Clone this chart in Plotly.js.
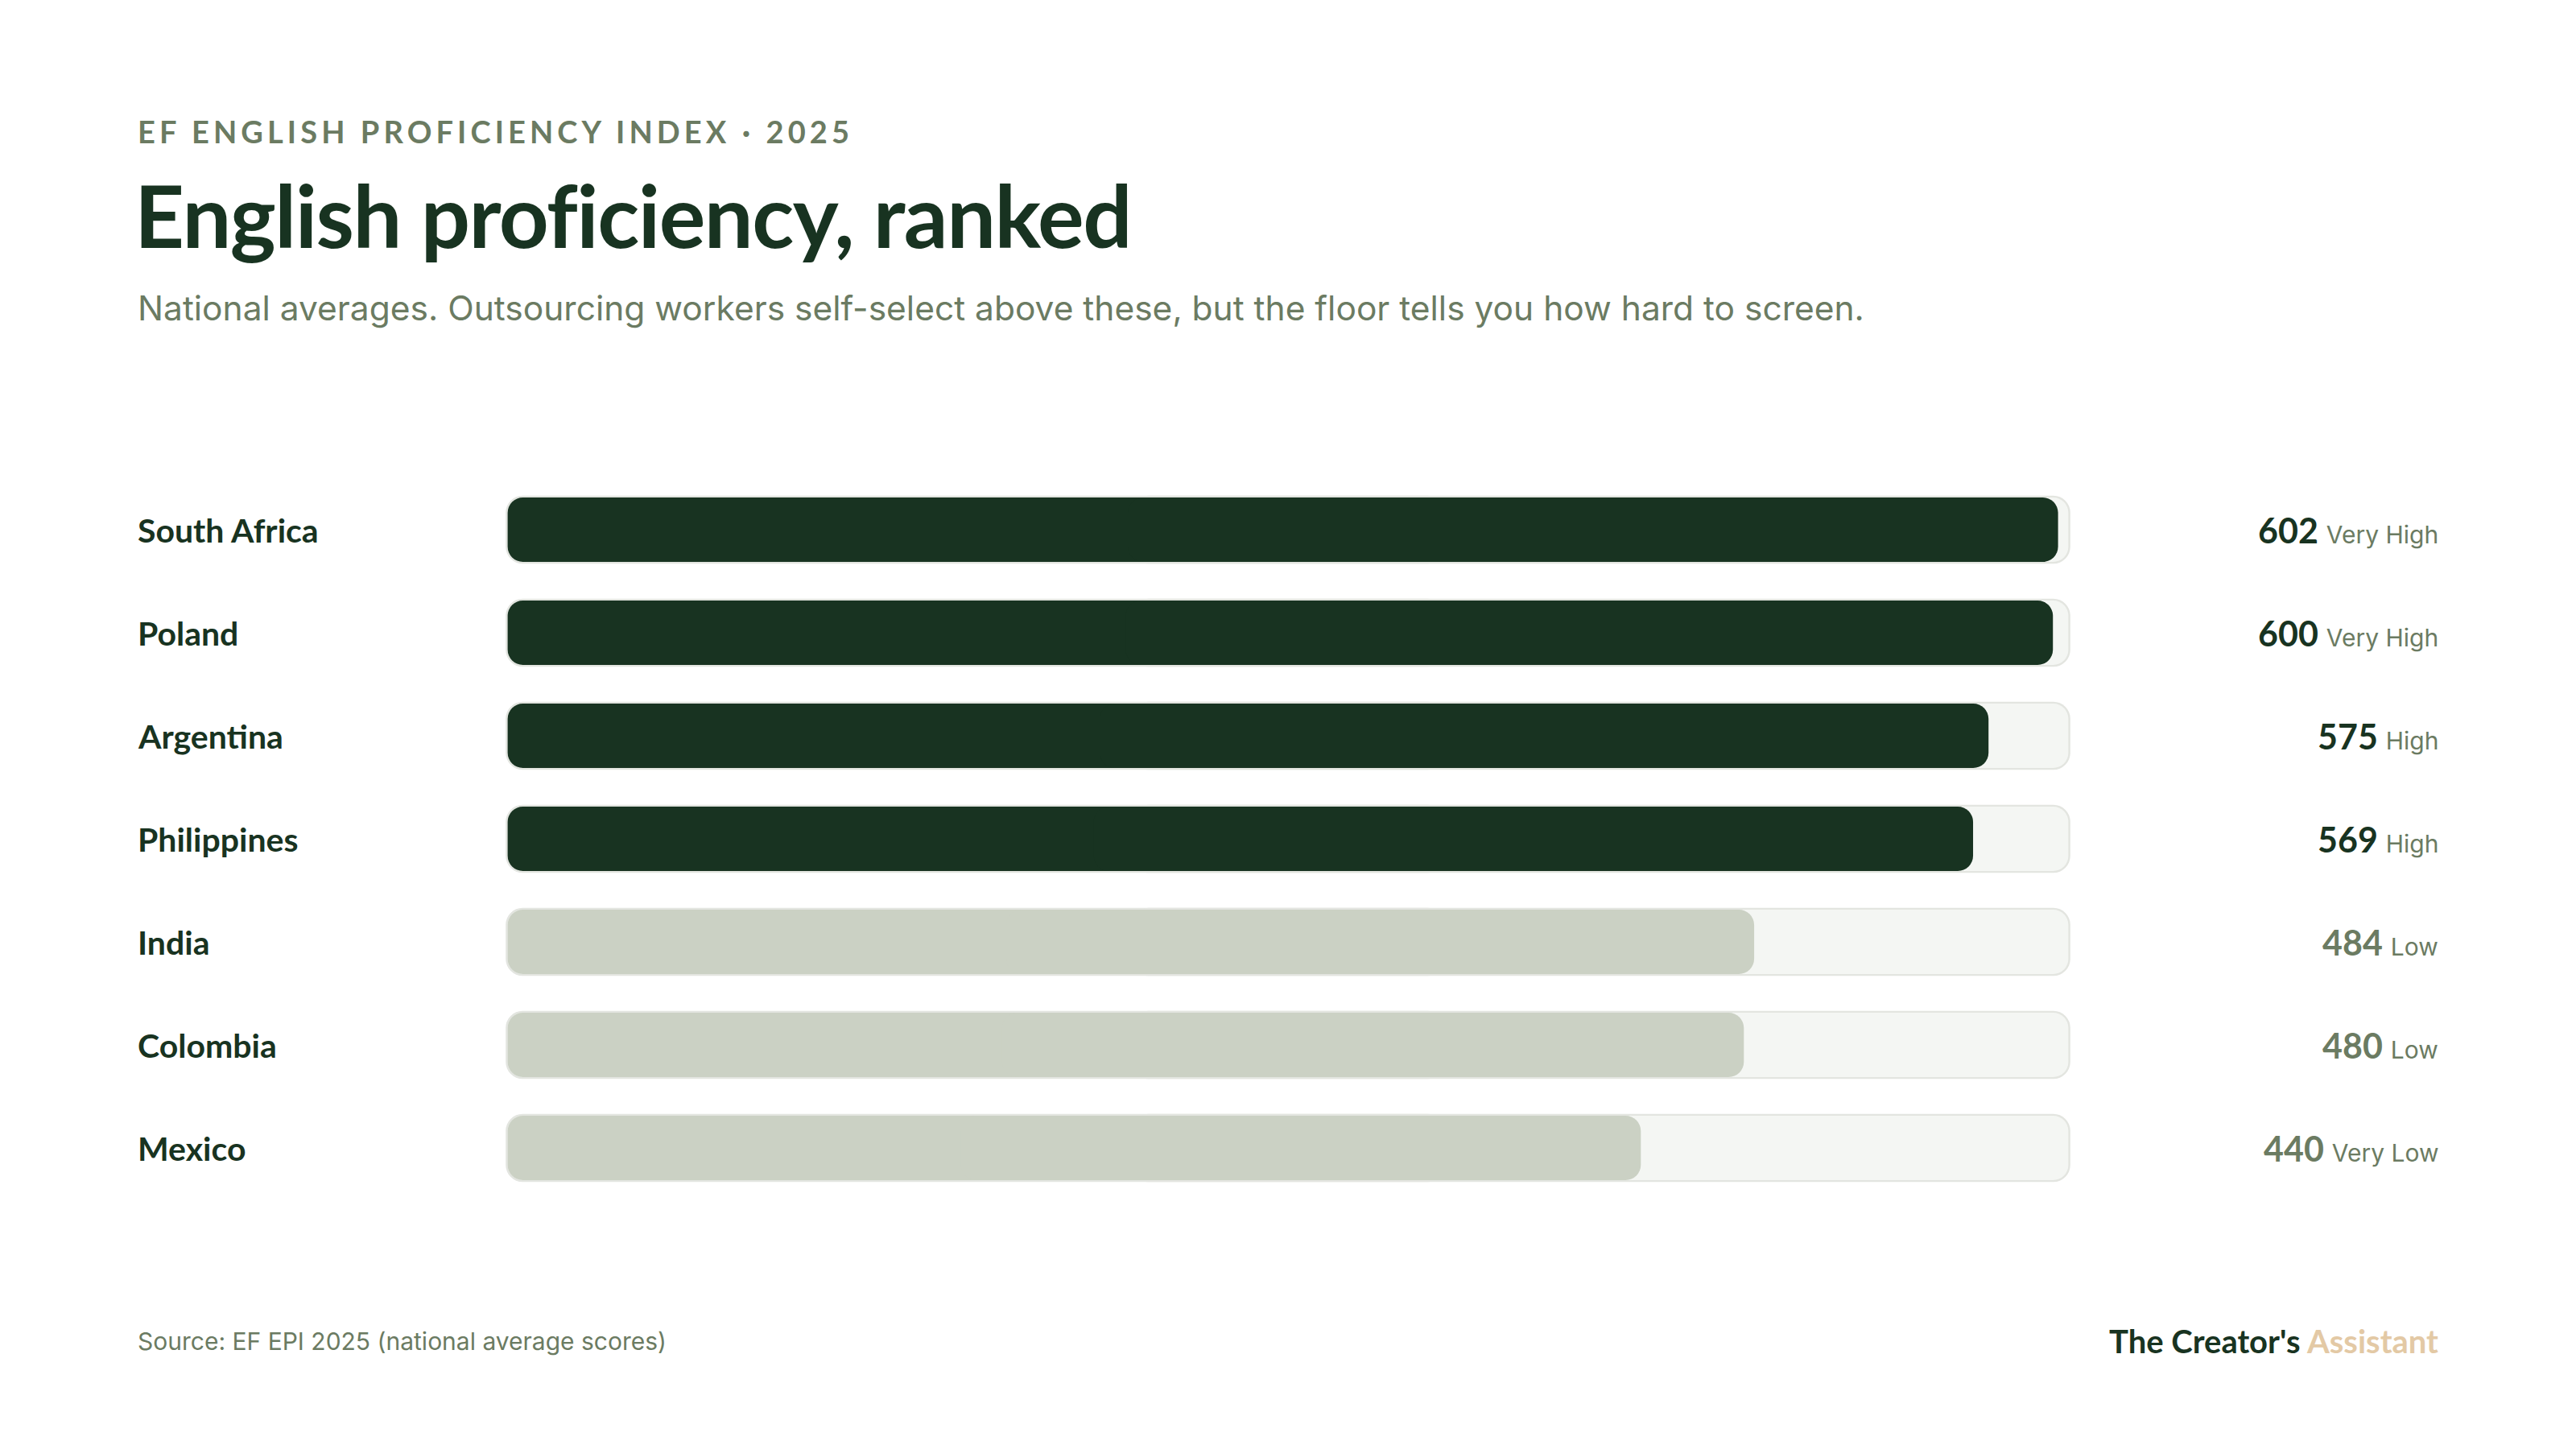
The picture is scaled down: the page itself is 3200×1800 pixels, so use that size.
<!DOCTYPE html>
<html>
<head>
<meta charset="utf-8">
<script src="https://cdn.plot.ly/plotly-3.0.1.min.js"></script>
<style>
html,body{margin:0;padding:0;background:#ffffff;}
#chart{width:3200px;height:1800px;}
</style>
</head>
<body>
<div id="chart"></div>
<script>
// ---- data ----
const countries = ['South Africa', 'Poland', 'Argentina', 'Philippines', 'India', 'Colombia', 'Mexico'];
const scores = [602, 600, 575, 569, 484, 480, 440];
const bands = ['Very High', 'Very High', 'High', 'High', 'Low', 'Low', 'Very Low'];
const scaleMax = 606;

const kicker = 'EF ENGLISH PROFICIENCY INDEX · 2025';
const titleText = 'English proficiency, ranked';
const subtitle = 'National averages. Outsourcing workers self-select above these, but the floor tells you how hard to screen.';
const sourceText = 'Source: EF EPI 2025 (national average scores)';
const brandA = "The Creator's";
const brandB = 'Assistant';

// ---- style ----
const DARK = '#183321';
const MUTED = '#6B7B62';
const LIGHTBAR = '#CBD1C4';
const TRACK = '#F4F6F3';
const TRACKLINE = '#E3E5E0';
const BEIGE = '#E3C9A5';

const W = 3200, H = 1800;
const PAD = 3;             // axis padding (data units) so rounded ends are not clipped
const PL = 621, PR = 2579, PT = 594, PB = 1490;
const px = x => (x - PL) / (PR - PL);
const py = y => (PB - y) / (PB - PT);

const isHigh = bands.map(b => b === 'Very High' || b === 'High');

// A bar rounded at both ends, built from two overlapping bars:
// one grows from the middle back to the start (rounded at start), one from the middle to the end.
function roundedBar(starts, ends, color, width, radius) {
  const leftPart = {
    type: 'bar', orientation: 'h', y: countries,
    base: starts.map((s, i) => s + (ends[i] - s) * 0.6),
    x: starts.map((s, i) => -(ends[i] - s) * 0.6),
    width: width,
    marker: {color: color, line: {width: 0}, cornerradius: radius},
    hoverinfo: 'skip', showlegend: false
  };
  const rightPart = {
    type: 'bar', orientation: 'h', y: countries,
    base: starts.map((s, i) => s + (ends[i] - s) * 0.4),
    x: starts.map((s, i) => (ends[i] - s) * 0.6),
    width: width,
    marker: {color: color, line: {width: 0}, cornerradius: radius},
    hoverinfo: 'skip', showlegend: false
  };
  return [leftPart, rightPart];
}

const zeros = countries.map(() => 0);
const fullTrack = countries.map(() => scaleMax);
const border = 0.75; // track outline thickness in data units
const traces = []
  .concat(roundedBar(zeros.map(z => z - border), fullTrack.map(v => v + border), TRACKLINE, 0.66, 21))
  .concat(roundedBar(zeros, fullTrack, TRACK, 0.625, 19))
  .concat(roundedBar(zeros, scores, isHigh.map(h => h ? DARK : LIGHTBAR), 0.625, 19));

const annotations = [];
countries.forEach((c, i) => {
  annotations.push({
    xref: 'paper', yref: 'y', x: px(169), y: c, xanchor: 'left', yanchor: 'middle', align: 'left',
    text: '<b>' + c + '</b>', showarrow: false,
    font: {family: 'Lato, sans-serif', size: 41, color: DARK, weight: 800}
  });
  annotations.push({
    xref: 'paper', yref: 'y', x: px(3031), y: c, xanchor: 'right', yanchor: 'middle', align: 'right',
    text: '<b>' + scores[i] + '</b> <span style="font-family:Inter;font-size:30px;font-weight:400;color:' + MUTED + '">' + bands[i] + '</span>',
    showarrow: false,
    font: {family: 'Lato, sans-serif', size: 43, color: isHigh[i] ? DARK : MUTED, weight: 800}
  });
});

annotations.push({
  xref: 'paper', yref: 'paper', x: px(169), y: py(163), xanchor: 'left', yanchor: 'middle', align: 'left',
  text: '<b>' + kicker + '</b>', showarrow: false,
  font: {family: 'Lato, sans-serif', size: 38, color: MUTED, weight: 800}
});
annotations.push({
  xref: 'paper', yref: 'paper', x: px(169), y: py(382), xanchor: 'left', yanchor: 'middle', align: 'left',
  text: subtitle, showarrow: false,
  font: {family: 'Inter, sans-serif', size: 42.5, color: MUTED}
});
annotations.push({
  xref: 'paper', yref: 'paper', x: px(169), y: py(1666), xanchor: 'left', yanchor: 'middle', align: 'left',
  text: sourceText, showarrow: false,
  font: {family: 'Inter, sans-serif', size: 30, color: MUTED}
});
annotations.push({
  xref: 'paper', yref: 'paper', x: px(3031), y: py(1666), xanchor: 'right', yanchor: 'middle', align: 'right',
  text: '<b>' + brandA + ' <span style="color:' + BEIGE + '">' + brandB + '</span></b>', showarrow: false,
  font: {family: 'Lato, sans-serif', size: 40, color: DARK, weight: 800}
});

const layout = {
  width: W, height: H,
  paper_bgcolor: '#ffffff', plot_bgcolor: '#ffffff',
  margin: {l: PL, r: W - PR, t: PT, b: H - PB, autoexpand: false},
  barmode: 'overlay',
  showlegend: false,
  title: {
    text: '<b>' + titleText + '</b>',
    xref: 'container', yref: 'container',
    x: 167 / W, xanchor: 'left', y: 1 - 270 / H, yanchor: 'middle',
    font: {family: 'Lato, sans-serif', size: 108, color: DARK, weight: 900}
  },
  xaxis: {range: [-PAD, scaleMax + PAD], visible: false, fixedrange: true},
  yaxis: {type: 'category', categoryorder: 'array', categoryarray: countries,
          range: [countries.length - 0.5, -0.5], visible: false, fixedrange: true},
  annotations: annotations
};

Plotly.newPlot('chart', traces, layout, {displayModeBar: false, staticPlot: true}).then(() => {
  document.querySelectorAll('.annotation-text').forEach(t => {
    if (t.textContent.indexOf('EF ENGLISH') === 0) t.style.letterSpacing = '5.1px';
  });
  document.querySelectorAll('.gtitle').forEach(t => { t.style.letterSpacing = '-1.5px'; });
});
</script>
</body>
</html>
